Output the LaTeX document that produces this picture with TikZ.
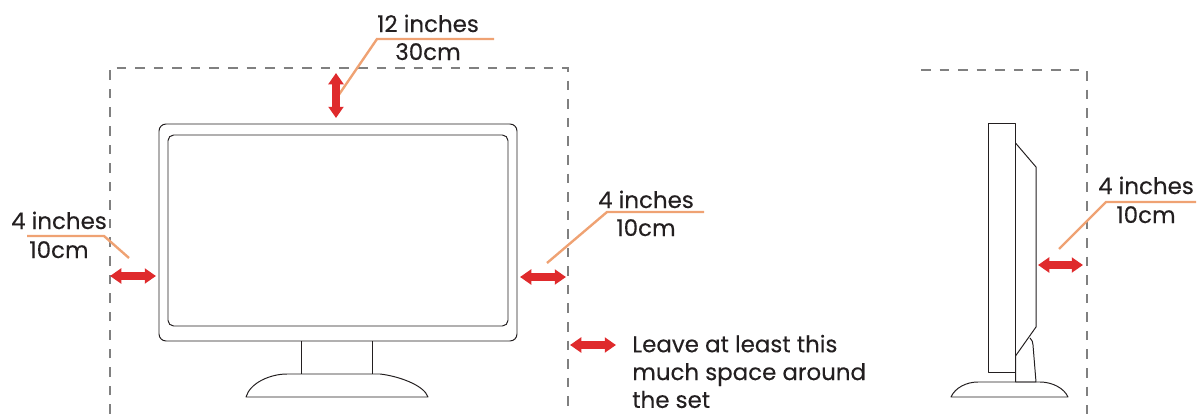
\documentclass[tikz,border=0pt]{standalone}
\usepackage{fontspec}
\setmainfont[FakeBold=0.2]{Poppins}
\definecolor{leadcol}{HTML}{EFA273}
\definecolor{gapcol}{HTML}{DF2A2C}
\definecolor{inkcol}{HTML}{231F20}
\usetikzlibrary{positioning,arrows.meta}

\begin{document}
\begin{tikzpicture}[x=0.025cm, y=-0.025cm, font=\fontsize{16.3}{19.8}\selectfont,
  outline/.style={draw=inkcol, line width=0.7pt, line join=round},
  frame/.style={draw=black!50, line width=2pt, dash pattern=on 6.8pt off 6.4pt},
  leader/.style={draw=leadcol, line width=1.7pt},
  gap/.style={{Triangle[length=8pt,width=10.5pt]}-{Triangle[length=8pt,width=10.5pt]}, draw=gapcol, fill=gapcol, line width=5pt},
  lab/.style={anchor=base, inner sep=0pt, text=inkcol}]
\useasboundingbox (0,0) rectangle (1199,414);
% dashed clearance lines
\coordinate (fla) at (110,414);
\coordinate (flb) at (110,68);
\coordinate (flc) at (568,68);
\coordinate (fld) at (568,414);
\draw[frame] (fla) -- (flb) -- (flc) -- (fld);
\coordinate (fsa) at (921,70);
\coordinate (fsb) at (1087,70);
\coordinate (fsc) at (1087,414);
\draw[frame] (fsa) -- (fsb) -- (fsc);
% monitor, front
\draw[outline, rounded corners=5pt] (159,124) rectangle (517,341);
\draw[outline, rounded corners=4pt] (168,135) rectangle (508,326);
\draw[outline] (301,341) -- (301,374);
\draw[outline] (372,341) -- (372,374);
\draw[outline] (246,397) .. controls (250,383) and (270,374) .. (287,374) -- (380,374) .. controls (398,376) and (424,385) .. (428,397) -- cycle;
% monitor, side
\draw[outline] (988.5,123.5) rectangle (1015.5,372);
\draw[outline] (1015.5,143) -- (1036,167) -- (1036,327) -- (1015.5,356) -- (1015.5,382);
\draw[outline] (1030,338) .. controls (1032,340) and (1033,342) .. (1033,345) -- (1036,382) -- (1015.5,382);
\draw[outline] (951,397) .. controls (955,388) and (966,382) .. (978,382) -- (1040,382) .. controls (1052,382) and (1064,388) .. (1068,397) -- cycle;
% leader lines
\coordinate (topa) at (338,96);
\coordinate (topb) at (377,39);
\coordinate (topc) at (494,39);
\draw[leader] (topa) -- (topb) -- (topc);
\coordinate (lefa) at (129,258);
\coordinate (lefb) at (104,236);
\coordinate (lefc) at (27,236);
\draw[leader] (lefa) -- (lefb) -- (lefc);
\coordinate (riga) at (547,263);
\coordinate (rigb) at (607,212);
\coordinate (rigc) at (704,212);
\draw[leader] (riga) -- (rigb) -- (rigc);
\coordinate (sida) at (1059,249);
\coordinate (sidb) at (1106,202);
\coordinate (sidc) at (1196,202);
\draw[leader] (sida) -- (sidb) -- (sidc);
% red arrows
\coordinate (gta) at (336,73);
\coordinate (gtb) at (336,118);
\draw[gap] (gta) -- (gtb);
\coordinate (gla) at (110,276);
\coordinate (glb) at (156,276);
\draw[gap] (gla) -- (glb);
\coordinate (gra) at (520,277);
\coordinate (grb) at (566,277);
\draw[gap] (gra) -- (grb);
\coordinate (gsa) at (1038,265);
\coordinate (gsb) at (1083,265);
\draw[gap] (gsa) -- (gsb);
\coordinate (gka) at (570,345);
\coordinate (gkb) at (616,345);
\draw[gap] (gka) -- (gkb);
% labels
\node[lab] (topin) at (428,32) {12 inches};
\node[lab] (topcm) at (428,60) {30cm};
\node[lab] (lefin) at (59,229) {4 inches};
\node[lab] (lefcm) at (59,258) {10cm};
\node[lab] (rigin) at (646,208) {4 inches};
\node[lab] (rigcm) at (646,236) {10cm};
\node[lab] (sidin) at (1146,194) {4 inches};
\node[lab] (sidcm) at (1146,223) {10cm};
\node[anchor=north west, inner sep=0pt, align=left, text=inkcol] (keytxt) at (632,334.5)
  {Leave at least this\\ much space around\\ the set};
\end{tikzpicture}
\end{document}
